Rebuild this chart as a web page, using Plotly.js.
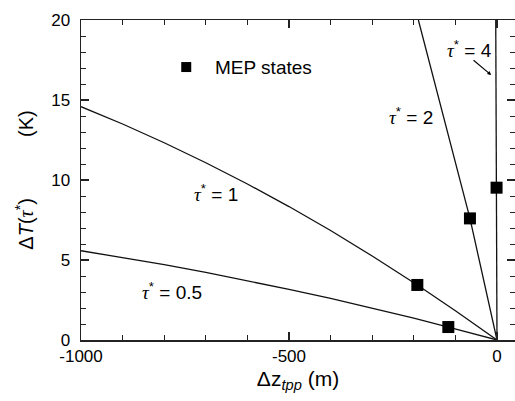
<!DOCTYPE html>
<html>
<head>
<meta charset="utf-8">
<script src="https://cdn.plot.ly/plotly-3.0.1.min.js"></script>
<style>html,body{margin:0;padding:0;background:#fff;}</style>
</head>
<body>
<div id="chart" style="width:515px;height:401px;"></div>
<script>
// Curves: tau* = 0.5, 1, 2, 4 (x in m, y in K)
const tau05X = [-1000, -900, -800, -700, -600, -500, -400, -300, -200, -117, 0];
const tau05Y = [5.58, 5.16, 4.71, 4.22, 3.71, 3.17, 2.60, 1.99, 1.36, 0.81, 0];
const tau1X = [-1000, -900, -800, -700, -600, -500, -400, -300, -191.5, -100, 0];
const tau1Y = [14.58, 13.50, 12.33, 11.08, 9.75, 8.34, 6.84, 5.25, 3.44, 1.83, 0];
const tau2X = [-189, -130, -77, -65, 0];
const tau2Y = [20, 14.08, 8.75, 7.6, 0];
const tau4X = [-3, -1, 0];
const tau4Y = [20, 9.52, 0];
// MEP states
const mepX = [-117, -191.5, -65, -1];
const mepY = [0.81, 3.44, 7.6, 9.52];
// legend marker
const legX = [-747];
const legY = [17.06];

const xTicks = [-1000, -500, 0];
const yTicks = [0, 5, 10, 15, 20];

const tauFont = "<span style=\"font-family:'Liberation Serif'\"><i>τ</i></span><sup>*</sup>";
const lineStyle = {color: '#111', width: 1.3};

const traces = [
  {x: tau05X, y: tau05Y, mode: 'lines', line: lineStyle, hoverinfo: 'skip'},
  {x: tau1X, y: tau1Y, mode: 'lines', line: lineStyle, hoverinfo: 'skip'},
  {x: tau2X, y: tau2Y, mode: 'lines', line: lineStyle, hoverinfo: 'skip'},
  {x: tau4X, y: tau4Y, mode: 'lines', line: lineStyle, hoverinfo: 'skip'},
  {x: mepX, y: mepY, mode: 'markers', marker: {symbol: 'square', size: 12, color: '#000'}, hoverinfo: 'skip'},
  {x: legX, y: legY, mode: 'markers', marker: {symbol: 'square', size: 10, color: '#000'}, hoverinfo: 'skip'}
];

const axisCommon = {
  showline: true, linecolor: '#222', linewidth: 1.5, mirror: 'ticks',
  ticks: 'inside', ticklen: 8, tickwidth: 1.2, tickcolor: '#222',
  showgrid: false, zeroline: false,
  tickfont: {family: 'Liberation Sans, Arial', size: 17, color: '#000'}
};

const sp = '&nbsp;'.repeat(11);

const layout = {
  width: 515, height: 401,
  margin: {l: 81, r: 0, t: 20, b: 61},
  paper_bgcolor: '#fff', plot_bgcolor: '#fff',
  showlegend: false,
  xaxis: Object.assign({}, axisCommon, {
    range: [-1000, 43.3], tickvals: xTicks, ticktext: xTicks.map(String),
    minor: {dtick: 100, tick0: 0, ticks: 'inside', ticklen: 5, tickcolor: '#222', tickwidth: 1},
    title: {text: 'Δz<sub><i>tpp</i></sub> (m)', font: {family: 'Liberation Sans, Arial', size: 21, color: '#000'}, standoff: 6}
  }),
  yaxis: Object.assign({}, axisCommon, {
    range: [0, 20], tickvals: yTicks, ticktext: yTicks.map(String),
    minor: {dtick: 1, tick0: 0, ticks: 'inside', ticklen: 5, tickcolor: '#222', tickwidth: 1},
    ticklabelstandoff: 6,
    title: {text: 'Δ<i>T</i>(<span style="font-family:\'Liberation Serif\'"><i>τ</i></span><sup>*</sup>)' + sp + '(K)', font: {family: 'Liberation Sans, Arial', size: 20, color: '#000'}, standoff: 12}
  }),
  annotations: [
    {x: -683, y: 17.06, xref: 'x', yref: 'y', text: 'MEP states', showarrow: false, xanchor: 'left', yanchor: 'middle',
     font: {family: 'Liberation Sans, Arial', size: 19, color: '#000'}},
    {x: -675, y: 9.2, xref: 'x', yref: 'y', text: tauFont + ' = 1', showarrow: false,
     font: {family: 'Liberation Sans, Arial', size: 19, color: '#000'}},
    {x: -781, y: 3.05, xref: 'x', yref: 'y', text: tauFont + ' = 0.5', showarrow: false,
     font: {family: 'Liberation Sans, Arial', size: 19, color: '#000'}},
    {x: -207, y: 14.0, xref: 'x', yref: 'y', text: tauFont + ' = 2', showarrow: false,
     font: {family: 'Liberation Sans, Arial', size: 19, color: '#000'}},
    {x: -67, y: 18.2, xref: 'x', yref: 'y', text: tauFont + ' = 4', showarrow: false,
     font: {family: 'Liberation Sans, Arial', size: 19, color: '#000'}},
    {x: -14, y: 16.56, ax: -60, ay: 17.56, xref: 'x', yref: 'y', axref: 'x', ayref: 'y', text: '', showarrow: true,
     arrowhead: 2, arrowsize: 0.7, arrowwidth: 1.1, arrowcolor: '#000'}
  ]
};

Plotly.newPlot('chart', traces, layout, {displayModeBar: false, staticPlot: true});
</script>
</body>
</html>
